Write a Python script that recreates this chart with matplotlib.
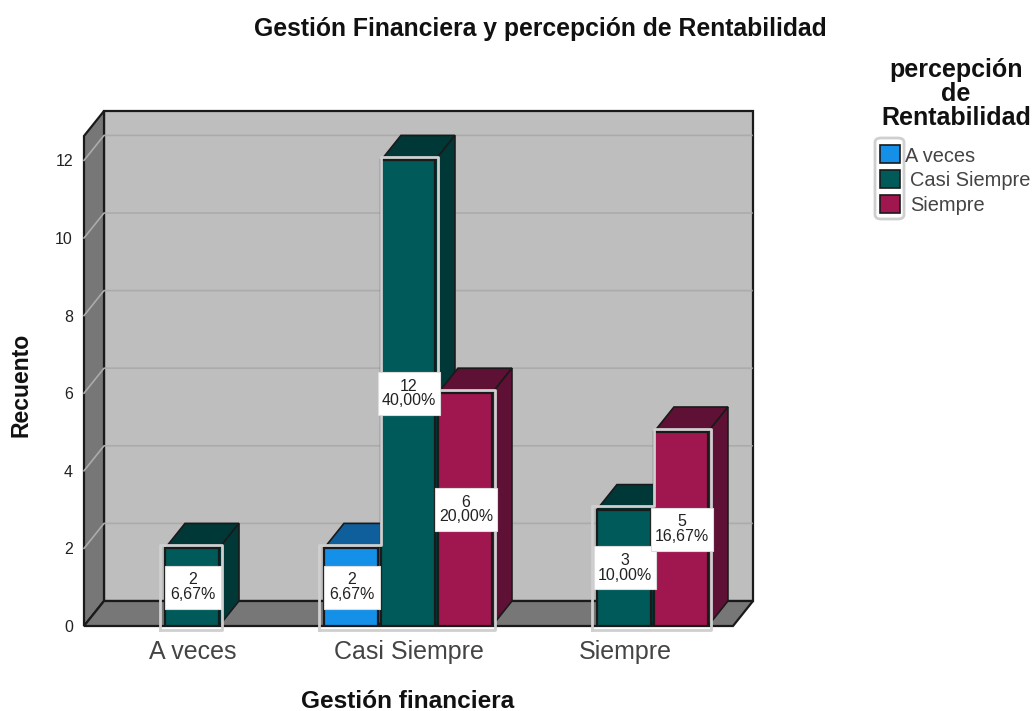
import matplotlib.pyplot as plt
from matplotlib.patches import FancyBboxPatch, Polygon, Rectangle

plt.rcParams["font.family"] = ["Liberation Sans", "DejaVu Sans"]

categories = ["A veces", "Casi Siempre", "Siempre"]
series_names = ["A veces", "Casi Siempre", "Siempre"]
a_veces = [0, 2, 0]
casi_siempre = [2, 12, 3]
siempre = [0, 6, 5]
pct_a_veces = ["", "6,67%", ""]
pct_casi_siempre = ["6,67%", "40,00%", "10,00%"]
pct_siempre = ["", "20,00%", "16,67%"]
yticks = [0, 2, 4, 6, 8, 10, 12]

front = ["#1490E8", "#005A5A", "#A0174F"]
side = ["#0F5F9C", "#003838", "#5F1035"]

W, H = 1034, 711
fig = plt.figure(figsize=(W / 100, H / 100), dpi=100)
ax = fig.add_axes([84 / W, (H - 626) / H, 649 / W, 490 / H])
ax.set_xlim(-0.505, 2.5)
ax.set_ylim(0, 490 / 38.8)
ymax = ax.get_ylim()[1]
xmin, xmax = ax.get_xlim()

# depth of the fake 3d box, in data units
dx = 20 / 216
dy = 25 / 38.8
bw = 0.25
step = 0.264
ink = "#1a1a1a"
frame_col = "#CFCFCF"

# walls
ax.add_patch(Rectangle((xmin + dx, dy), xmax - xmin, ymax, fc="#BEBEBE", ec=ink, lw=1.6, zorder=1, clip_on=False))
ax.add_patch(Polygon([(xmin, 0), (xmin + dx, dy), (xmin + dx, ymax + dy), (xmin, ymax)],
                     fc="#777777", ec=ink, lw=1.6, zorder=2, clip_on=False))
ax.add_patch(Polygon([(xmin, 0), (xmax, 0), (xmax + dx, dy), (xmin + dx, dy)],
                     fc="#777777", ec=ink, lw=1.6, zorder=2, clip_on=False))
for t in yticks[1:]:
    ax.plot([xmin, xmin + dx, xmax + dx - 0.005], [t, t + dy, t + dy], color="#ABABAB", lw=1.2, zorder=2.5, clip_on=False)

# bars, left to right so the next front face covers the previous side
z = 3
for c in range(len(categories)):
    for s, vals in enumerate([a_veces, casi_siempre, siempre]):
        v = vals[c]
        if v == 0:
            continue
        x0 = c + (s - 1) * step - bw / 2 - 0.005
        x1 = x0 + bw
        ax.add_patch(Polygon([(x0, v), (x1, v), (x1 + dx, v + dy), (x0 + dx, v + dy)],
                             fc=side[s], ec=ink, lw=1.2, zorder=z, clip_on=False))
        ax.add_patch(Polygon([(x1, 0), (x1 + dx, dy), (x1 + dx, v + dy), (x1, v)],
                             fc=side[s], ec=ink, lw=1.2, zorder=z, clip_on=False))
        ax.bar(x0, v, width=bw, align="edge", color=front[s], edgecolor=ink, lw=1.6, zorder=z + 0.1)
        z += 0.2

# grey frames around each group
pady = 0.08
for c in range(len(categories)):
    xs = []
    ys = []
    for s, vals in enumerate([a_veces, casi_siempre, siempre]):
        v = vals[c]
        if v == 0:
            continue
        x0 = c + (s - 1) * step - step / 2
        xs += [x0, x0 + step]
        ys += [v + pady, v + pady]
    xs[0] -= 0.02
    xs = [xs[0]] + xs + [xs[-1], xs[0]]
    ys = [-0.1] + ys + [-0.1, -0.1]
    ax.plot(xs, ys, color=frame_col, lw=2, solid_joinstyle="round", zorder=z + 1, clip_on=False)

# value boxes
box_h = 43 / 38.8
rows = [(a_veces, pct_a_veces), (casi_siempre, pct_casi_siempre), (siempre, pct_siempre)]
for c in range(len(categories)):
    for s, (vals, pcts) in enumerate(rows):
        v = vals[c]
        if v == 0:
            continue
        xc = c + (s - 1) * step
        box_w = (56 if len(pcts[c]) == 5 else 62) / 216
        ax.add_patch(Rectangle((xc - box_w / 2, v / 2 - box_h / 2), box_w, box_h, fc="white", ec="#DDDDDD",
                               lw=0.8, zorder=z + 2))
        ax.text(xc, v / 2, f"{v}\n{pcts[c]}", ha="center", va="center", fontsize=11.5,
                color="#222222", linespacing=0.95, zorder=z + 3)

ax.set_xticks(range(len(categories)), categories)
ax.set_yticks(yticks)
ax.tick_params(axis="both", length=0)
ax.tick_params(axis="x", labelsize=18, pad=10, labelcolor="#444444")
ax.tick_params(axis="y", labelsize=11.5, pad=8, labelcolor="#222222")
for sp in ax.spines.values():
    sp.set_visible(False)
ax.patch.set_visible(False)

fig.text(540 / W, 1 - 29 / H, "Gestión Financiera y percepción de Rentabilidad", ha="center", va="center",
         fontsize=17.8, fontweight="bold", color="#111111")
fig.text(408 / W, 1 - 701 / H, "Gestión financiera", ha="center", va="center",
         fontsize=17.6, fontweight="bold", color="#111111")
fig.text(21 / W, 1 - 385 / H, "Recuento", ha="center", va="center", rotation=90,
         fontsize=16.6, fontweight="bold", color="#111111")

# legend
fig.text(956 / W, 1 - 94 / H, "percepción\nde\nRentabilidad", ha="center", va="center", fontsize=18,
         fontweight="bold", color="#111111", linespacing=1.0)
fig.add_artist(FancyBboxPatch((875 / W, 1 - 219 / H), 29 / W, 81 / H, transform=fig.transFigure, fc="white",
                              ec=frame_col, lw=2, boxstyle="round,pad=0,rounding_size=0.006"))
legend_y = [154, 179, 204]
legend_x = [905, 910, 910]
for i, name in enumerate(series_names):
    fig.add_artist(Rectangle((880 / W, 1 - (legend_y[i] + 9) / H), 20 / W, 18 / H, transform=fig.transFigure,
                             fc=front[i], ec=ink, lw=1.2))
    fig.text(legend_x[i] / W, 1 - (legend_y[i] + 2) / H, name, ha="left", va="center", fontsize=14.4, color="#444444")

fig.savefig("out.png", dpi=100)
